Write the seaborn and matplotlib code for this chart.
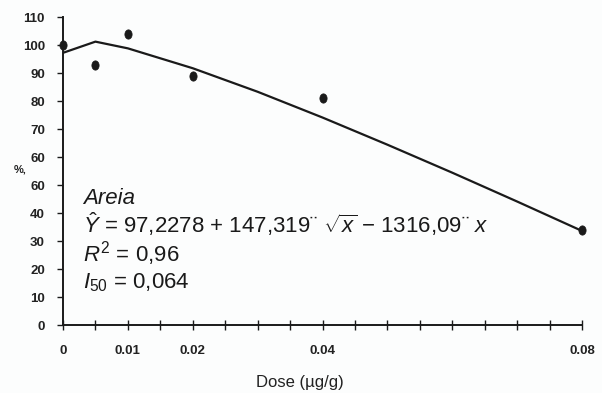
import matplotlib
matplotlib.use("Agg")
import matplotlib.pyplot as plt
import seaborn as sns
import pandas as pd
import numpy as np
from matplotlib.ticker import FixedLocator, MultipleLocator

# observed data
dose = [0.0, 0.005, 0.01, 0.02, 0.04, 0.08]
pct = [100, 93, 104, 89, 81, 34]

# fitted curve
curve_dose = [0.0, 0.005, 0.01, 0.02, 0.03, 0.04, 0.05, 0.06, 0.07, 0.08]
curve_pct = [97.2, 101.2, 98.8, 91.7, 83.3, 74.1, 64.4, 54.4, 44.1, 33.6]

xtick_vals = [0, 0.01, 0.02, 0.04, 0.08]
xtick_labels = ["0", "0.01", "0.02", "0.04", "0.08"]
ytick_vals = [0, 10, 20, 30, 40, 50, 60, 70, 80, 90, 100, 110]
ytick_labels = ["0", "10", "20", "30", "40", "60", "60", "70", "80", "90", "100", "110"]

sns.set_theme(style="white")
plt.rcParams["font.family"] = ["Liberation Sans", "DejaVu Sans"]
plt.rcParams["mathtext.fontset"] = "custom"
plt.rcParams["mathtext.rm"] = "Liberation Sans"
plt.rcParams["mathtext.it"] = "Liberation Sans:italic"
plt.rcParams["mathtext.bf"] = "Liberation Sans:bold"

ink = "#1a1a1a"
fig = plt.figure(figsize=(6.02, 3.93), dpi=100)
fig.patch.set_facecolor("#fcfdfd")
ax = fig.add_axes([63/602, 1-325/393, (582-63)/602, (325-17)/393])
ax.set_facecolor("#fcfdfd")

df_pts = pd.DataFrame({"dose": dose, "pct": pct})
df_curve = pd.DataFrame({"dose": curve_dose, "pct": curve_pct})

# slightly tall oval marker
t = np.linspace(0, 2*np.pi, 40)
oval = list(zip(0.78*np.cos(t), np.sin(t)))

sns.lineplot(data=df_curve, x="dose", y="pct", ax=ax, color=ink, linewidth=1.6)
sns.scatterplot(data=df_pts, x="dose", y="pct", ax=ax, color=ink, marker=oval,
                s=45, edgecolor=ink, linewidth=0.5, zorder=3, clip_on=False)

ax.set_xlim(0, 0.08)
ax.set_ylim(0, 110)
for s in ["top", "right"]:
    ax.spines[s].set_visible(False)
for s in ["left", "bottom"]:
    ax.spines[s].set_color(ink)
    ax.spines[s].set_linewidth(1.4)

ax.xaxis.set_major_locator(FixedLocator(xtick_vals))
ax.set_xticklabels(xtick_labels, fontsize=9.5, fontweight="bold", color="#222222")
ax.xaxis.set_minor_locator(MultipleLocator(0.005))
ax.tick_params(axis="x", which="both", direction="inout", length=7, width=1.0,
               color=ink, pad=11, bottom=True)
ax.yaxis.set_major_locator(FixedLocator(ytick_vals))
ax.set_yticklabels(ytick_labels, fontsize=9.5, fontweight="bold", color="#222222")
ax.tick_params(axis="y", direction="out", length=4, width=1.0, color=ink,
               pad=9, left=True)

ax.set_xlabel("")
ax.set_ylabel("")
fig.text(300/602, 1-383/393, "Dose (µg/g)", fontsize=12, color="#222222",
         ha="center", va="center")
fig.text(14/602, 1-170/393, "%,", fontsize=8, fontweight="bold", color="#222222",
         ha="left", va="center")

tx = 0.0031
fs = 16
ax.text(tx, 43.2, "Areia", fontsize=fs, style="italic", color=ink)
ax.text(tx, 32.9, r"$\hat{Y}$ = 97,2278 + 147,319¨ $\sqrt{x}$ − 1316,09¨ $x$",
        fontsize=fs, color=ink)
ax.text(tx, 22.5, r"$R^2$ = 0,96", fontsize=fs, color=ink)
ax.text(tx, 12.9, r"$I_{50}$ = 0,064", fontsize=fs, color=ink)

fig.savefig("out.png", dpi=100, facecolor=fig.get_facecolor())
